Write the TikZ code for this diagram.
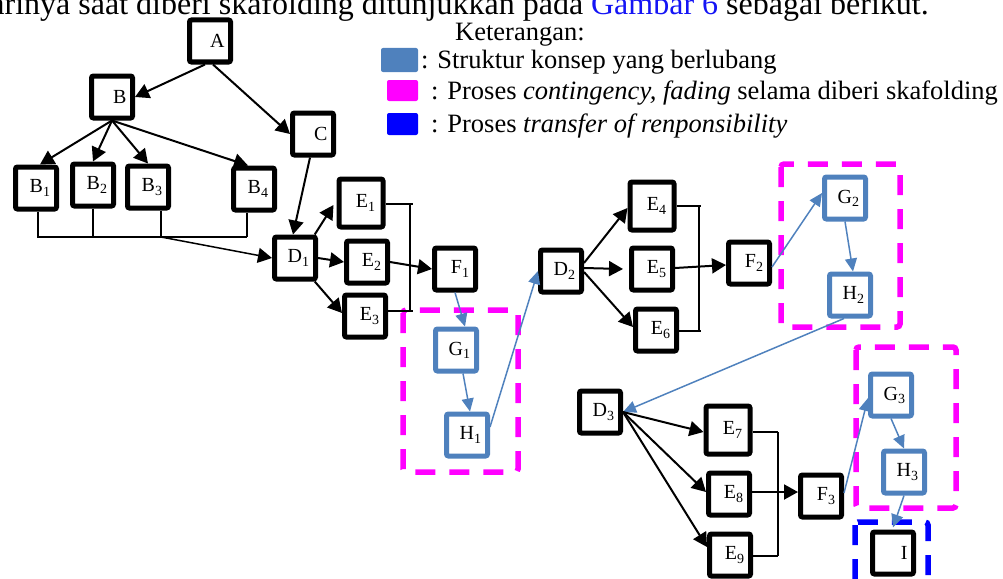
\documentclass[tikz,border=0pt]{standalone}
\usepackage{fontspec}
\setmainfont{Liberation Serif}
\usetikzlibrary{arrows.meta,calc}
\definecolor{boxblue}{RGB}{79,129,189}
\definecolor{mag}{RGB}{255,0,255}
\definecolor{pureblue}{RGB}{0,0,255}
\definecolor{linkblue}{RGB}{20,20,245}
\begin{document}
\begin{tikzpicture}[x=1pt,y=-1pt,
  box/.style={draw=black, line width=5pt, rounded corners=2pt, fill=white,
    minimum width=41pt, minimum height=42pt, inner sep=0pt,
    text width=29pt, align=right, font=\fontsize{20}{22}\selectfont},
  bigbox/.style={box, minimum width=44pt, minimum height=48pt},
  bbox/.style={box, draw=boxblue},
  arr/.style={-{Triangle[length=14pt,width=15pt]}, line width=2pt, black},
  barr/.style={-{Triangle[length=13pt,width=12pt]}, line width=1.5pt, boxblue},
  brk/.style={line width=1.5pt, black},
  magbox/.style={draw=mag, line width=5.5pt, dash pattern=on 20pt off 14pt, rounded corners=3pt},
  blubox/.style={draw=pureblue, line width=5.5pt, dash pattern=on 20pt off 14pt, rounded corners=3pt},
  legtxt/.style={anchor=base west, inner sep=0pt, font=\fontsize{26.5}{30}\selectfont},
  legsq/.style={inner sep=0pt, rounded corners=2pt}
]
\useasboundingbox (0,0) rectangle (1003,578);
\clip (0,0) rectangle (1003,578);

% top text line (cut off)
\node[anchor=base east, inner sep=0pt, font=\fontsize{32}{38}\selectfont] (toptext) at (929,15)
  {arinya saat diberi skafolding ditunjukkan pada \textcolor{linkblue}{Gambar 6} sebagai berikut.};

% legend
\node[legtxt] (ket) at (455,41) {Keterangan:};
\node[legsq, fill=boxblue, minimum width=37pt, minimum height=24pt] (l1) at (399.5,60) {};
\node[legtxt] (t1) at (421,68) {: Struktur konsep yang berlubang};
\node[legsq, fill=mag, minimum width=31pt, minimum height=21pt] (l2) at (402.5,90.5) {};
\node[legtxt] (t2) at (431,99) {: Proses \textit{contingency, fading} selama diberi skafolding};
\node[legsq, fill=pureblue, minimum width=31pt, minimum height=22pt] (l3) at (402.5,124) {};
\node[legtxt] (t3) at (431,132) {: Proses \textit{transfer of renponsibility}};

% dashed frames
\draw[magbox] (403,310) rectangle (518,472);
\draw[magbox] (781,164) rectangle (900,327);
\draw[magbox] (856,347) rectangle (956,508);
\draw[blubox] (855,522) rectangle (928,600);

% boxes
\node[box] (A) at (210,41) {A};
\node[box] (B) at (112,97) {B};
\node[box] (C) at (313,134) {C};
\node[box] (B1) at (36,188) {B\textsubscript{1}};
\node[box] (B2) at (93,185) {B\textsubscript{2}};
\node[box] (B3) at (148,187) {B\textsubscript{3}};
\node[box] (B4) at (254,189) {B\textsubscript{4}};
\node[box] (D1) at (295,258) {D\textsubscript{1}};
\node[bigbox] (E1) at (361,203) {E\textsubscript{1}};
\node[box] (E2) at (367,262) {E\textsubscript{2}};
\node[box] (E3) at (365,316) {E\textsubscript{3}};
\node[box] (F1) at (455,269) {F\textsubscript{1}};
\node[bbox] (G1) at (456,350) {G\textsubscript{1}};
\node[bbox] (H1) at (467,435) {H\textsubscript{1}};
\node[box] (D2) at (561,271) {D\textsubscript{2}};
\node[bigbox] (E4) at (652,206) {E\textsubscript{4}};
\node[box] (E5) at (652,269) {E\textsubscript{5}};
\node[box] (E6) at (656,330) {E\textsubscript{6}};
\node[box] (F2) at (749,263) {F\textsubscript{2}};
\node[bbox] (G2) at (845,198) {G\textsubscript{2}};
\node[bbox] (H2) at (850,295) {H\textsubscript{2}};
\node[box] (D3) at (600,412) {D\textsubscript{3}};
\node[bigbox] (E7) at (728,430) {E\textsubscript{7}};
\node[box] (E8) at (729,494) {E\textsubscript{8}};
\node[box] (E9) at (730,555) {E\textsubscript{9}};
\node[box] (F3) at (821,496) {F\textsubscript{3}};
\node[bbox] (G3) at (891,395) {G\textsubscript{3}};
\node[bbox] (H3) at (904,472) {H\textsubscript{3}};
\node[box] (I) at (893,553) {I};

% top tree
\draw[arr] ([xshift=-5pt]A.south) -- (B.east);
\draw[arr] ([xshift=3pt]A.south) -- (C.west);
\draw[arr] (B.south) -- ([xshift=4pt]B1.north);
\draw[arr] (B.south) -- (B2.north);
\draw[arr] (B.south) -- (B3.north);
\draw[arr] (B.south) -- ([xshift=-6pt]B4.north);
\draw[arr] ([xshift=-3pt]C.south) -- ([xshift=-2pt]D1.north);

% bus under B row
\coordinate (busL) at (37,237);
\coordinate (busR) at (247,237);
\coordinate (busM) at (161,237);
\draw[brk] (busL) -- (busR);
\draw[brk] ([xshift=2pt]B1.south) -- ([xshift=2pt]B1.south |- busL);
\draw[brk] (B2.south) -- (B2.south |- busL);
\draw[brk] ([xshift=13pt]B3.south) -- ([xshift=13pt]B3.south |- busL);
\draw[brk] ([xshift=-7pt]B4.south) -- ([xshift=-7pt]B4.south |- busL);
\draw[arr, line width=1.5pt] (busM) -- (D1.west);

% D1 group
\draw[arr] (D1.50) -- ([xshift=-3pt,yshift=-2pt]E1.west);
\draw[arr] (D1.east) -- (E2.west);
\draw[arr] (D1.-50) -- ([yshift=3pt]E3.west);
\coordinate (k1t) at (410,204);
\coordinate (k1b) at (410,311);
\draw[brk] (E1.east |- k1t) -- ([xshift=3pt]k1t);
\draw[brk] (k1t) -- (k1b);
\draw[brk] (E3.east |- k1b) -- ([xshift=3pt]k1b);
\draw[arr] (E2.east) -- (F1.west);

% blue chain 1
\draw[barr] (F1.south) -- ([xshift=9pt]G1.north);
\draw[barr] ([xshift=7pt]G1.south) -- ([xshift=3pt]H1.north);
\draw[barr] ([yshift=8pt]H1.east) -- (D2.west);

% D2 group
\draw[arr] ([yshift=8pt]D2.east) -- ([yshift=-2pt]E4.west);
\draw[arr] ([yshift=3pt]D2.east) -- ([xshift=-6pt]E5.west);
\draw[arr] ([yshift=-1pt]D2.east) -- ([yshift=3pt]E6.west);
\coordinate (k2t) at (699,206);
\coordinate (k2b) at (699,331);
\draw[brk] (E4.east |- k2t) -- ([xshift=2pt]k2t);
\draw[brk] (k2t) -- (k2b);
\draw[brk] (E6.east |- k2b) -- ([xshift=2pt]k2b);
\draw[arr] ([yshift=1pt]E5.east) -- ([yshift=-2pt]F2.west);

% blue chain 2
\draw[barr] ([yshift=-4pt]F2.east) -- ([yshift=5pt]G2.west);
\draw[barr] (G2.south) -- ([xshift=3pt]H2.north);
\draw[barr] ([xshift=-6pt]H2.south) -- (D3.east);

% D3 group
\draw[arr] (D3.east) -- ([yshift=-2pt]E7.west);
\draw[arr] (D3.east) -- ([yshift=2pt]E8.west);
\draw[arr] (D3.east) -- ([yshift=8pt]E9.west);
\coordinate (k3t) at (778,432);
\coordinate (k3b) at (778,556);
\draw[brk] (E7.east |- k3t) -- (k3t);
\draw[brk] (k3t) -- (k3b);
\draw[brk] (E9.east |- k3b) -- (k3b);
\draw[arr] ([yshift=2pt]E8.east) -- ([yshift=4pt]F3.west);

% blue chain 3
\draw[barr] ([yshift=3pt]F3.east) -- ([yshift=-3pt]G3.west);
\draw[barr] (G3.south) -- (H3.north);
\draw[barr] (H3.south) -- ([yshift=2pt]I.north);
\end{tikzpicture}
\end{document}
